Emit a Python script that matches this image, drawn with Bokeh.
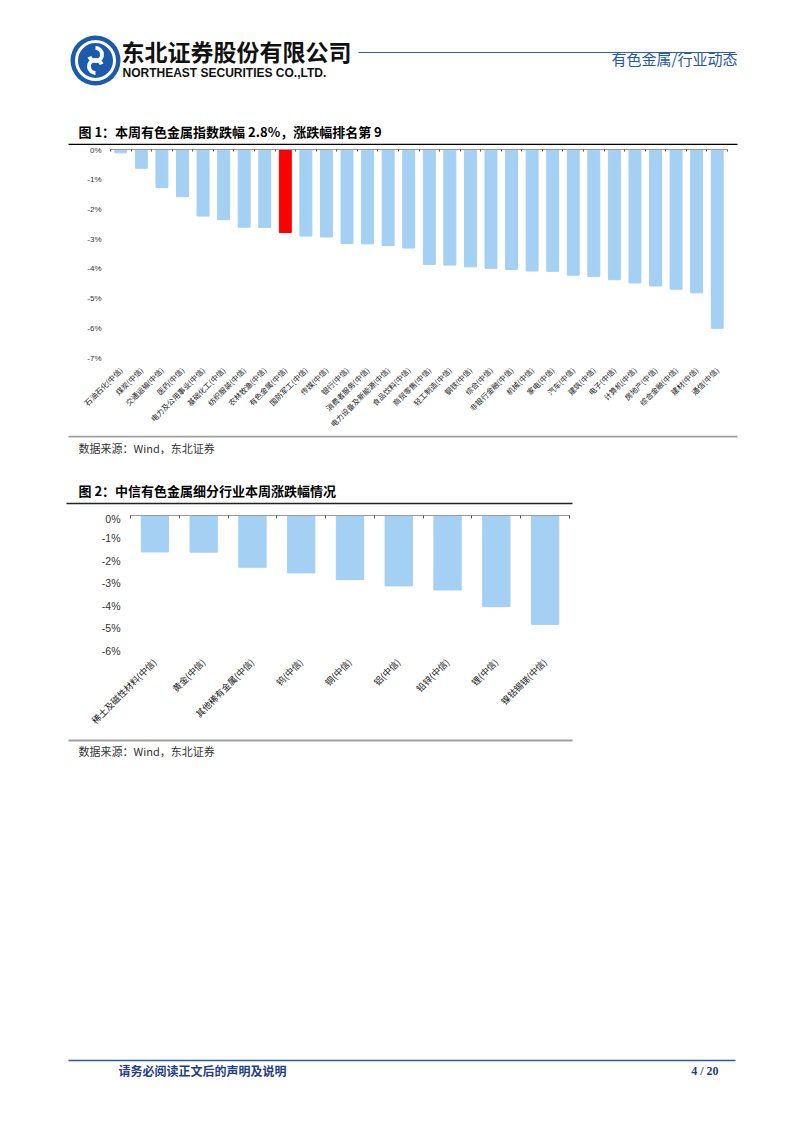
import math
from bokeh.plotting import figure
from bokeh.models import (Range1d, LinearAxis, FixedTicker, PrintfTickFormatter,
                          CustomJSTickFormatter, ColumnDataSource)
from bokeh.embed import file_html
from bokeh.resources import INLINE
from bokeh.core.properties import value

W = 802
CJK = "Noto Sans CJK SC"
LAT = "Liberation Sans"
BAR_BLUE = "#A3D0F3"
HIGHLIGHT_RED = "#FF0000"

# ---------------- data ----------------
industries = [
    "石油石化(中信)", "煤炭(中信)", "交通运输(中信)", "医药(中信)", "电力及公用事业(中信)",
    "基础化工(中信)", "纺织服装(中信)", "农林牧渔(中信)", "有色金属(中信)", "国防军工(中信)",
    "传媒(中信)", "银行(中信)", "消费者服务(中信)", "电力设备及新能源(中信)", "食品饮料(中信)",
    "商贸零售(中信)", "轻工制造(中信)", "钢铁(中信)", "综合(中信)", "非银行金融(中信)",
    "机械(中信)", "家电(中信)", "汽车(中信)", "建筑(中信)", "电子(中信)",
    "计算机(中信)", "房地产(中信)", "综合金融(中信)", "建材(中信)", "通信(中信)",
]
industry_changes = [
    -0.11, -0.63, -1.27, -1.58, -2.23,
    -2.35, -2.60, -2.61, -2.78, -2.90,
    -2.93, -3.15, -3.16, -3.22, -3.30,
    -3.85, -3.87, -3.93, -3.98, -4.02,
    -4.07, -4.08, -4.21, -4.25, -4.36,
    -4.47, -4.57, -4.68, -4.80, -5.99,
]
highlight_industry = "有色金属(中信)"
y1_ticks = [0, -1, -2, -3, -4, -5, -6, -7]

sub_industries = [
    "稀土及磁性材料(中信)", "黄金(中信)", "其他稀有金属(中信)", "钨(中信)", "铜(中信)",
    "铝(中信)", "铅锌(中信)", "锂(中信)", "镍钴锡锑(中信)",
]
sub_changes = [-1.62, -1.63, -2.30, -2.55, -2.85, -3.13, -3.31, -4.05, -4.84]
y2_ticks = [0, -1, -2, -3, -4, -5, -6]


def deco(h):
    p = figure(width=W, height=h, x_range=Range1d(0, W), y_range=Range1d(h, 0),
               output_backend="svg", toolbar_location=None,
               x_axis_location=None, y_axis_location=None,
               min_border=0, min_border_left=0, min_border_right=0,
               min_border_top=0, min_border_bottom=0)
    p.grid.visible = False
    p.outline_line_color = None
    p.background_fill_color = "white"
    p.border_fill_color = "white"
    return p


def txt(p, x, y, s, size, color="#000000", font=CJK, style="normal", align="left"):
    p.text(x=[x], y=[y], text=[s], text_font=value(font), text_font_size=size,
           text_color=color, text_font_style=style, text_align=align, text_baseline="middle")


def bar_chart(cats, vals, colors, yticks, height, left, right, top, bottom,
              bar_w, xfont, yfont, ystand, tick_in):
    n = len(cats)
    src = ColumnDataSource(dict(x=[i + 0.5 for i in range(n)], val=vals, color=colors, cat=cats))
    c = figure(width=W, height=height, x_range=Range1d(0, n),
               y_range=Range1d(yticks[-1], yticks[0]),
               output_backend="svg", toolbar_location=None,
               x_axis_location=None, y_axis_location="left",
               min_border_left=left, min_border_right=right,
               min_border_top=top, min_border_bottom=bottom)
    c.vbar(x="x", top="val", bottom=0, width=bar_w, color="color", source=src)
    # zero line with tick marks between categories
    top_ax = LinearAxis(ticker=FixedTicker(ticks=list(range(n + 1))),
                        formatter=CustomJSTickFormatter(code="return '';"),
                        major_label_standoff=0,
                        major_tick_in=tick_in, major_tick_out=0, minor_tick_line_color=None,
                        axis_line_color="#9a9a9a", major_tick_line_color="#555555")
    c.add_layout(top_ax, "above")
    # category labels below the frame
    lab_ax = LinearAxis(ticker=FixedTicker(ticks=[i + 0.5 for i in range(n)]),
                        formatter=CustomJSTickFormatter(
                            args=dict(labels=cats),
                            code="const i = Math.floor(tick); return (i >= 0 && i < labels.length) ? labels[i] : '';"),
                        major_label_orientation=math.pi / 4,
                        axis_line_color=None, major_tick_line_color=None, minor_tick_line_color=None,
                        major_label_text_font=CJK, major_label_text_font_size=xfont,
                        major_label_text_color="#222222", major_label_standoff=4)
    c.add_layout(lab_ax, "below")
    ya = c.yaxis[0]
    ya.ticker = FixedTicker(ticks=yticks)
    ya.formatter = PrintfTickFormatter(format="%d%%")
    ya.axis_line_color = None
    ya.major_tick_line_color = None
    ya.minor_tick_line_color = None
    ya.major_label_text_font = LAT
    ya.major_label_text_font_size = yfont
    ya.major_label_text_color = "#333333"
    ya.major_label_standoff = ystand
    c.grid.visible = False
    c.outline_line_color = None
    return c


# ---------------- header ----------------
H1 = 145
hd = deco(H1)
LOGO = "#1B5BAA"
hd.circle(x=[95], y=[60], radius=25, fill_color=LOGO, line_color=None)
hd.circle(x=[95], y=[60], radius=19, fill_color=None, line_color="white", line_width=3)
hd.arc(x=[95], y=[54], radius=6.5, start_angle=math.radians(200), end_angle=math.radians(90),
       direction="anticlock", line_color="white", line_width=4)
hd.arc(x=[95], y=[66], radius=6.5, start_angle=math.radians(20), end_angle=math.radians(270),
       direction="anticlock", line_color="white", line_width=4)
txt(hd, 121, 50, "东北证券股份有限公司", "23px", "#111111", CJK, "bold")
txt(hd, 122, 72, "NORTHEAST SECURITIES CO.,LTD.", "12px", "#111111", LAT, "bold")
hd.line(x=[358, 735], y=[52, 52], line_color="#2E5FA8", line_width=1.2)
txt(hd, 737, 58, "有色金属/行业动态", "15px", "#1F57A8", CJK, "normal", "right")
txt(hd, 78, 131, "图 1：本周有色金属指数跌幅 2.8%，涨跌幅排名第 9", "13px", "#000000", CJK, "bold")
hd.line(x=[68, 737], y=[144, 144], line_color="#000000", line_width=1.6)

# ---------------- chart 1 ----------------
colors1 = [HIGHLIGHT_RED if c == highlight_industry else BAR_BLUE for c in industries]
c1 = bar_chart(industries, industry_changes, colors1, y1_ticks, 290, 110, 75, 4, 73,
               0.58, "7.5px", "8px", 3, 2)

# ---------------- middle decoration ----------------
D1 = 77
md = deco(D1)
md.line(x=[68, 737], y=[1, 1], line_color="#a0a0a0", line_width=2)
txt(md, 78, 12, "数据来源：Wind，东北证券", "11px", "#333333", CJK)
txt(md, 78, 55, "图 2：中信有色金属细分行业本周涨跌幅情况", "13px", "#000000", CJK, "bold")
md.line(x=[66, 572], y=[68, 68], line_color="#222222", line_width=1.6)

# ---------------- chart 2 ----------------
c2 = bar_chart(sub_industries, sub_changes, [BAR_BLUE] * len(sub_industries), y2_ticks,
               226, 130, 233, 3, 88, 0.56, "9px", "10.5px", 4, 3)

# ---------------- bottom decoration / footer ----------------
D2 = 1133 - H1 - 290 - D1 - 226
bd = deco(D2)
bd.line(x=[68, 572], y=[2, 2], line_color="#a0a0a0", line_width=2)
txt(bd, 78, 12, "数据来源：Wind，东北证券", "11px", "#333333", CJK)
bd.line(x=[68, 735], y=[322, 322], line_color="#2F5AA0", line_width=1.5)
txt(bd, 118, 332, "请务必阅读正文后的声明及说明", "12px", "#1F3C88", CJK, "bold")
txt(bd, 718, 332, "4 / 20", "12px", "#1F3C88", "Liberation Serif", "bold", "right")

page = [hd, c1, md, c2, bd]
open("out.html", "w").write(file_html(page, INLINE))
